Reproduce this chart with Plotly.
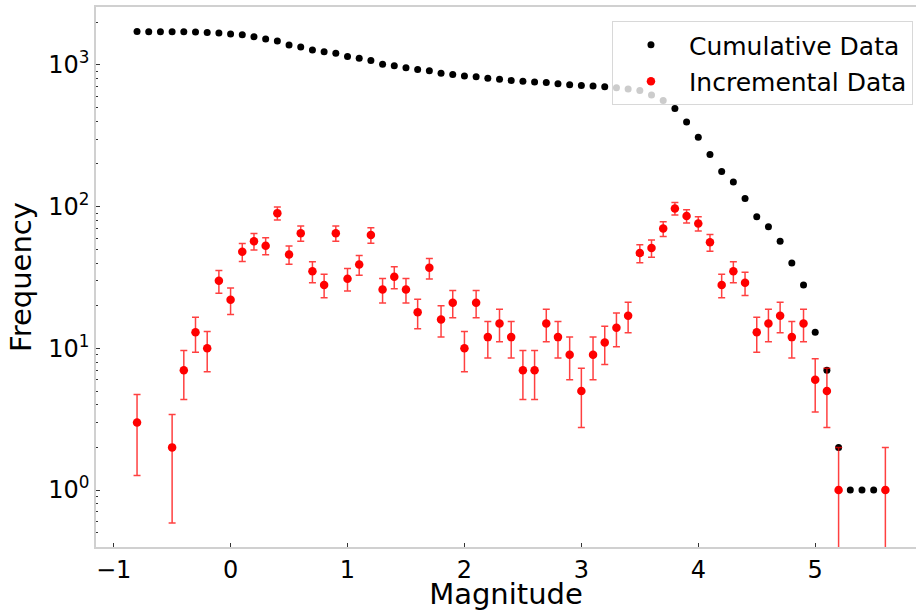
import numpy as np
import plotly.graph_objects as go

# Magnitude bins (0.1 wide) and the number of events at or above each bin
cum_mag = [-0.8, -0.7, -0.6, -0.5, -0.4, -0.3, -0.2, -0.1, 0.0, 0.1,
           0.2, 0.3, 0.4, 0.5, 0.6, 0.7, 0.8, 0.9, 1.0, 1.1,
           1.2, 1.3, 1.4, 1.5, 1.6, 1.7, 1.8, 1.9, 2.0, 2.1,
           2.2, 2.3, 2.4, 2.5, 2.6, 2.7, 2.8, 2.9, 3.0, 3.1,
           3.2, 3.3, 3.4, 3.5, 3.6, 3.7, 3.8, 3.9, 4.0, 4.1,
           4.2, 4.3, 4.4, 4.5, 4.6, 4.7, 4.8, 4.9, 5.0, 5.1,
           5.2, 5.3, 5.4, 5.5, 5.6]
cum_count = [1719, 1716, 1716, 1716, 1714, 1707, 1694, 1684, 1654, 1632,
             1584, 1527, 1474, 1384, 1338, 1273, 1238, 1210, 1145, 1114,
             1075, 1012, 986, 954, 928, 910, 873, 857, 836, 826,
             805, 793, 778, 766, 759, 752, 737, 725, 716, 711,
             702, 691, 677, 660, 613, 562, 492, 395, 309, 233,
             177, 149, 114, 85, 72, 57, 40, 28, 13, 7,
             2, 1, 1, 1, 1]

# Non-empty bins and the number of events in each
inc_mag = [-0.8, -0.5, -0.4, -0.3, -0.2, -0.1, 0.0, 0.1, 0.2, 0.3,
           0.4, 0.5, 0.6, 0.7, 0.8, 0.9, 1.0, 1.1, 1.2, 1.3,
           1.4, 1.5, 1.6, 1.7, 1.8, 1.9, 2.0, 2.1, 2.2, 2.3,
           2.4, 2.5, 2.6, 2.7, 2.8, 2.9, 3.0, 3.1, 3.2, 3.3,
           3.4, 3.5, 3.6, 3.7, 3.8, 3.9, 4.0, 4.1, 4.2, 4.3,
           4.4, 4.5, 4.6, 4.7, 4.8, 4.9, 5.0, 5.1, 5.2, 5.6]
inc_count = [3, 2, 7, 13, 10, 30, 22, 48, 57, 53,
             90, 46, 65, 35, 28, 65, 31, 39, 63, 26,
             32, 26, 18, 37, 16, 21, 10, 21, 12, 15,
             12, 7, 7, 15, 12, 9, 5, 9, 11, 14,
             17, 47, 51, 70, 97, 86, 76, 56, 28, 35,
             29, 13, 15, 17, 12, 15, 6, 5, 1, 1]

# Poisson counting uncertainty
inc_err = np.sqrt(np.array(inc_count, dtype=float))

y_tickvals = [1, 10, 100, 1000]
y_ticktext = ["10<sup>0</sup>", "10<sup>1</sup>", "10<sup>2</sup>", "10<sup>3</sup>"]

FONT = "DejaVu Sans"
SPINE = "#d0d0d0"

fig = go.Figure()

fig.add_trace(go.Scatter(
    x=cum_mag, y=cum_count, mode="markers", name="Cumulative Data",
    legendgroup="cum",
    marker=dict(color="black", size=7, line=dict(width=0)),
))

fig.add_trace(go.Scatter(
    x=inc_mag, y=inc_count, mode="markers", name="Incremental Data",
    legendgroup="inc",
    marker=dict(color="red", size=8.5, line=dict(width=0)),
    error_y=dict(type="data", array=inc_err, visible=True,
                 color="rgba(255,0,0,0.75)", thickness=1.5, width=3.5),
))

fig.update_layout(
    width=916, height=611,
    margin=dict(l=96, r=0, t=7, b=64),
    paper_bgcolor="white", plot_bgcolor="white",
    font=dict(family=FONT, size=24, color="black"),
    showlegend=True,
    legend=dict(
        x=0.9963, y=0.974, xanchor="right", yanchor="top",
        bgcolor="rgba(255,255,255,0.8)", bordercolor="#d8d8d8", borderwidth=1,
        font=dict(family=FONT, size=25, color="black"),
        itemwidth=66, tracegroupgap=1,
    ),
    xaxis=dict(
        range=[-1.151, 5.862],
        tickmode="array", tickvals=[-1, 0, 1, 2, 3, 4, 5],
        ticks="inside", ticklen=4, tickwidth=1, tickcolor="#333333",
        showline=True, linecolor=SPINE, linewidth=1.5, mirror=True,
        showgrid=False, zeroline=False,
        tickfont=dict(family=FONT, size=24),
        title=dict(text="Magnitude", font=dict(family=FONT, size=29), standoff=8),
    ),
    yaxis=dict(
        type="log", range=[-0.402, 3.409],
        tickmode="array", tickvals=y_tickvals, ticktext=y_ticktext,
        ticks="inside", ticklen=4, tickwidth=1, tickcolor="#333333",
        minor=dict(ticks="inside", ticklen=2, tickcolor="#333333", dtick="D1", showgrid=False),
        showline=True, linecolor=SPINE, linewidth=1.5, mirror=False,
        showgrid=False, zeroline=False,
        tickfont=dict(family=FONT, size=24),
        title=dict(text="Frequency", font=dict(family=FONT, size=29), standoff=8),
    ),
)

fig.write_html("out.html")
